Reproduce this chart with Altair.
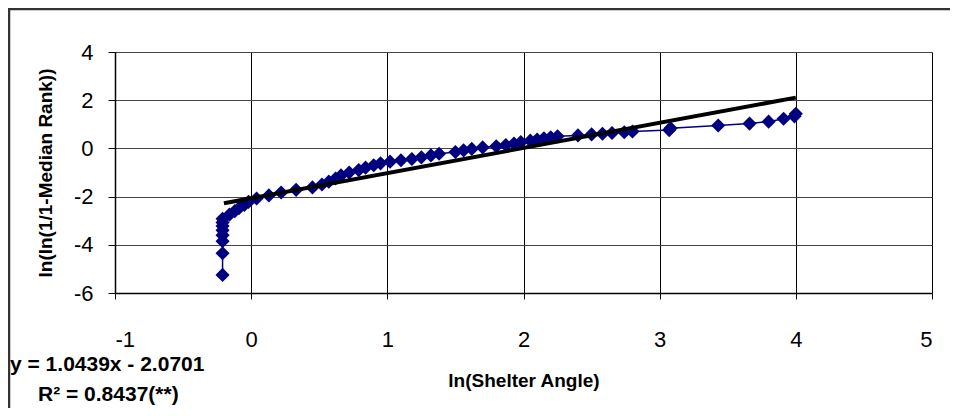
import altair as alt
import pandas as pd

# ln(Shelter Angle) and ln(ln(1/(1-Median Rank)))
x_vals = [-0.21, -0.21, -0.21, -0.21, -0.21, -0.21, -0.21, -0.21,
          -0.16, -0.12, -0.09, -0.05, -0.02, 0.04, 0.13, 0.22, 0.33, 0.45,
          0.52, 0.57, 0.62, 0.66, 0.72, 0.79, 0.84, 0.90, 0.95, 1.02, 1.10,
          1.18, 1.25, 1.32, 1.38, 1.50, 1.56, 1.62, 1.70, 1.80, 1.87, 1.93,
          1.98, 2.05, 2.10, 2.15, 2.20, 2.25, 2.40, 2.50, 2.58, 2.65, 2.74,
          2.80, 3.07, 3.08, 3.43, 3.66, 3.80, 3.91, 3.99, 4.00]
y_vals = [-5.25, -4.35, -3.85, -3.60, -3.40, -3.22, -3.07, -2.92,
          -2.75, -2.60, -2.48, -2.35, -2.22, -2.08, -1.95, -1.83, -1.72, -1.62,
          -1.50, -1.38, -1.25, -1.12, -1.00, -0.90, -0.80, -0.70, -0.62, -0.55, -0.49,
          -0.44, -0.37, -0.29, -0.22, -0.15, -0.08, -0.02, 0.04, 0.09, 0.14, 0.20,
          0.26, 0.32, 0.37, 0.42, 0.46, 0.50, 0.54, 0.58, 0.61, 0.64, 0.67,
          0.70, 0.76, 0.84, 0.95, 1.03, 1.11, 1.23, 1.33, 1.44]

slope = 1.0439
intercept = -2.0701
trend_x = [-0.2, 4.0]

x_ticks = [-1, 0, 1, 2, 3, 4, 5]
y_ticks = [-6, -4, -2, 0, 2, 4]

eq_text = "y = 1.0439x - 2.0701"
r2_text = "R² = 0.8437(**)"
x_title = "ln(Shelter Angle)"
y_title = "ln(ln(1/1-Median Rank))"

df = pd.DataFrame({"x": x_vals, "y": y_vals, "i": list(range(len(x_vals)))})
trend = pd.DataFrame({"x": trend_x, "y": [slope * v + intercept for v in trend_x]})

W, H = 817, 241
FONT = "Liberation Sans"

xs = alt.Scale(domain=[-1, 5], nice=False, zero=False)
ys = alt.Scale(domain=[-6, 4], nice=False, zero=False)

xaxis = alt.Axis(values=x_ticks, title=x_title, grid=True, gridColor="#000000",
                 gridWidth=1, domainColor="#000000", domainWidth=1.5,
                 tickColor="#000000", tickSize=6, labelFontSize=22,
                 labelFont=FONT, labelColor="#000000", labelPadding=30,
                 labelExpr="'' + datum.value",
                 titleFont=FONT, titleFontSize=19, titleFontWeight="bold",
                 titleColor="#000000", titleX=W / 2, titleY=87,
                 titleBaseline="middle")
yaxis = alt.Axis(values=y_ticks, title=y_title, grid=True, gridColor="#444444",
                 gridWidth=1, domainColor="#000000", domainWidth=1.5,
                 tickColor="#000000", tickSize=7, labelFontSize=22,
                 labelFont=FONT, labelColor="#000000", labelPadding=15,
                 labelExpr="'' + datum.value",
                 titleFont=FONT, titleFontSize=19, titleFontWeight="bold",
                 titleColor="#000000", titleX=-70, titleY=H / 2,
                 titleAngle=-90, titleBaseline="middle", titleAlign="center")

base = alt.Chart(df)
line = base.mark_line(color="#000080", strokeWidth=1.5).encode(
    x=alt.X("x:Q", scale=xs, axis=xaxis),
    y=alt.Y("y:Q", scale=ys, axis=yaxis),
    order="i:Q",
)
pts = base.mark_point(shape="diamond", filled=True, color="#000080",
                      size=200, opacity=1).encode(
    x=alt.X("x:Q", scale=xs), y=alt.Y("y:Q", scale=ys))
tl = alt.Chart(trend).mark_line(color="#000000", strokeWidth=4).encode(
    x=alt.X("x:Q", scale=xs), y=alt.Y("y:Q", scale=ys))

txt = alt.Chart(pd.DataFrame({"t": [eq_text, r2_text],
                              "px": [-105, -77], "py": [313, 343]})).mark_text(
    font=FONT, fontSize=21, fontWeight="bold", color="#000000",
    align="left", baseline="middle").encode(
    text="t:N", x=alt.X("px:Q", scale=None), y=alt.Y("py:Q", scale=None))

frame = alt.Chart(pd.DataFrame({"a": [0]})).mark_rule(
    color="#333333", strokeWidth=2.5).encode(
    x=alt.value(-106), y=alt.value(-44), y2=alt.value(400))
frame_top = alt.Chart(pd.DataFrame({"a": [0]})).mark_rule(
    color="#333333", strokeWidth=2.5).encode(
    x=alt.value(-107), x2=alt.value(835), y=alt.value(-43))

chart = alt.layer(line, pts, tl, txt, frame, frame_top).properties(
    width=W, height=H,
    padding={"left": 107, "top": 44, "right": 18, "bottom": 115},
    autosize=alt.AutoSizeParams(type="none"),
).configure_view(stroke="#000000", strokeWidth=1).configure(background="white")

chart.save("out.html", embed_options={"renderer": "svg", "actions": False})
